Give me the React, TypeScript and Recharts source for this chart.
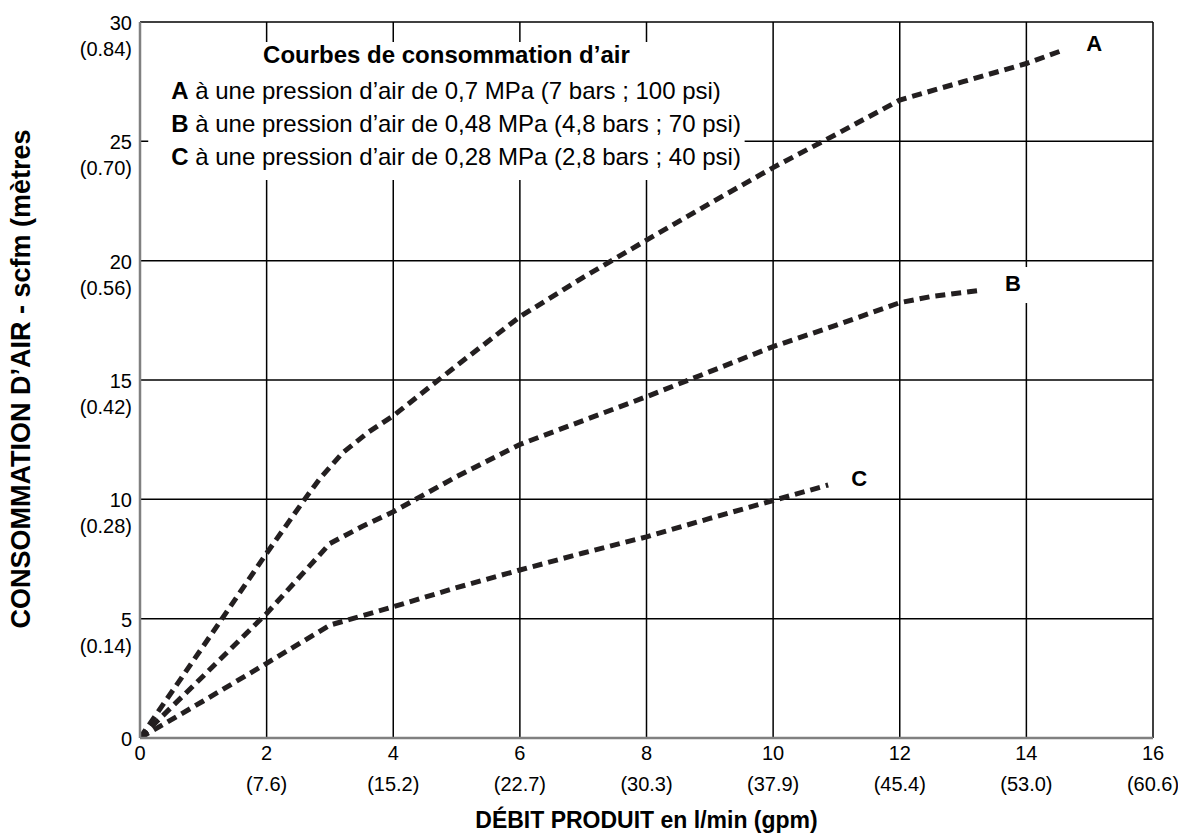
import { LineChart, Line, XAxis, YAxis, CartesianGrid, ReferenceArea, LabelList } from 'recharts';

// débit produit (gpm) / consommation d'air (scfm)
const flowA = [0, 1, 2, 2.6, 2.85, 3.2, 3.6, 4, 5, 6, 7, 8, 9, 10, 11, 12, 13, 14, 14.58];
const airA = [0, 3.85, 7.74, 10, 10.9, 11.95, 12.8, 13.5, 15.6, 17.65, 19.3, 20.86, 22.4, 23.9, 25.3, 26.73, 27.5, 28.26, 28.82];

const flowB = [0, 1, 2, 3, 3.5, 4, 5, 6, 7, 8, 9, 10, 11, 12, 12.5, 13.3];
const airB = [0, 2.6, 5.22, 8.15, 8.85, 9.48, 10.95, 12.3, 13.3, 14.3, 15.35, 16.4, 17.3, 18.24, 18.5, 18.77];

const flowC = [0, 1, 2, 3, 3.3, 4, 5, 6, 7, 8, 9, 10, 10.87];
const airC = [0, 1.55, 3.13, 4.73, 4.96, 5.5, 6.3, 7.04, 7.75, 8.43, 9.2, 9.95, 10.6];

const xTicks = [0, 2, 4, 6, 8, 10, 12, 14, 16];
const xTicksLpm = ['', '(7.6)', '(15.2)', '(22.7)', '(30.3)', '(37.9)', '(45.4)', '(53.0)', '(60.6)'];
const yTicks = [0, 5, 10, 15, 20, 25, 30];
const yTicksM3 = ['', '(0.14)', '(0.28)', '(0.42)', '(0.56)', '(0.70)', '(0.84)'];

const legendTitle = 'Courbes de consommation d’air';
const legendKeys = ['A', 'B', 'C'];
const legendTexts = [
    ' à une pression d’air de 0,7 MPa (7 bars ; 100 psi)',
    ' à une pression d’air de 0,48 MPa (4,8 bars ; 70 psi)',
    ' à une pression d’air de 0,28 MPa (2,8 bars ; 40 psi)',
];

const xTitle = 'DÉBIT PRODUIT en l/min (gpm)';
const yTitle = 'CONSOMMATION D’AIR - scfm (mètres';

const toPoints = (xs: number[], ys: number[]) => xs.map((x, i) => ({ x, y: ys[i] }));
const seriesA = toPoints(flowA, airA);
const seriesB = toPoints(flowB, airB);
const seriesC = toPoints(flowC, airC);

const INK = '#231f20';
const SANS = "'Liberation Sans', Arial, sans-serif";

const YTick = (props: any) => {
    const { x, y, payload } = props;
    const i = yTicks.indexOf(payload.value);
    return (
        <g fontFamily={SANS} fontSize={20} fill="#000">
            <text x={x} y={y + 1} textAnchor="end" dominantBaseline="central">{payload.value}</text>
            {yTicksM3[i] && (
                <text x={x} y={y + 27} textAnchor="end" dominantBaseline="central">{yTicksM3[i]}</text>
            )}
        </g>
    );
};

const XTick = (props: any) => {
    const { x, y, payload } = props;
    const i = xTicks.indexOf(payload.value);
    return (
        <g fontFamily={SANS} fontSize={20} fill="#000">
            <text x={x} y={y + 15} textAnchor="middle" dominantBaseline="central">{payload.value}</text>
            {xTicksLpm[i] && (
                <text x={x} y={y + 46} textAnchor="middle" dominantBaseline="central">{xTicksLpm[i]}</text>
            )}
        </g>
    );
};

const endLabel = (name: string, last: number) => (props: any) => {
    const { x, y, index } = props;
    if (index !== last) return null;
    const cx = x + 31;
    const cy = y - 7;
    return (
        <g>
            <rect x={cx - 17} y={cy - 16} width={36} height={36} fill="#fff" />
            <text x={cx} y={cy} textAnchor="middle" dominantBaseline="central" fontFamily={SANS} fontWeight="bold" fontSize={22} fill="#000">
                {name}
            </text>
        </g>
    );
};

const LegendBox = (props: any) => {
    const { x, y, width } = props.viewBox;
    return (
        <g fontFamily={SANS} fill="#000">
            <text x={x + width / 2} y={y + 12} textAnchor="middle" dominantBaseline="central" fontSize={24} fontWeight="bold">
                {legendTitle}
            </text>
            {legendKeys.map((k, i) => (
                <text key={k} x={x + 23} y={y + 48 + i * 33} dominantBaseline="central" fontSize={24}>
                    <tspan fontWeight="bold">{k}</tspan>
                    <tspan>{legendTexts[i]}</tspan>
                </text>
            ))}
        </g>
    );
};

const XTitle = (props: any) => {
    const { x, width } = props.viewBox;
    return (
        <text x={x + width / 2} y={820} textAnchor="middle" dominantBaseline="central" fontFamily={SANS} fontWeight="bold" fontSize={23} fill="#000">
            {xTitle}
        </text>
    );
};

const YTitle = () => {
    const cx = 21;
    const cy = 379;
    return (
        <text x={cx} y={cy} transform={`rotate(-90 ${cx} ${cy})`} textAnchor="middle" dominantBaseline="central" fontFamily={SANS} fontWeight="bold" fontSize={27} fill="#000">
            {yTitle}
        </text>
    );
};

export default function App() {
    const lineProps = {
        type: 'linear' as const,
        dataKey: 'y',
        stroke: INK,
        strokeWidth: 5,
        strokeDasharray: '10 6',
        dot: false,
        activeDot: false,
        isAnimationActive: false,
    };

    return (
        <div style={{ position: 'absolute', left: 0, top: 0, width: 1178, height: 837, background: '#fff' }}>
            <LineChart width={1178} height={837} margin={{ top: 22, right: 25, bottom: 0, left: 0 }}>
                <CartesianGrid stroke="#000" strokeWidth={1.5} />
                <XAxis
                    type="number"
                    dataKey="x"
                    domain={[0, 16]}
                    ticks={xTicks}
                    height={99}
                    tickLine={false}
                    tickSize={0}
                    tickMargin={0}
                    axisLine={{ stroke: '#808080', strokeWidth: 2.5 }}
                    tick={<XTick />}
                    label={<XTitle />}
                    allowDataOverflow
                />
                <YAxis
                    type="number"
                    domain={[0, 30]}
                    ticks={yTicks}
                    width={140}
                    tickSize={6}
                    tickMargin={2}
                    tickLine={false}
                    axisLine={{ stroke: '#808080', strokeWidth: 2.5 }}
                    tick={<YTick />}
                    label={<YTitle />}
                    allowDataOverflow
                />
                <ReferenceArea x1={0.13} x2={9.55} y1={23.38} y2={29.16} fill="#fff" fillOpacity={1} stroke="none" label={<LegendBox />} />
                <Line {...lineProps} data={seriesA} name="A">
                    <LabelList dataKey="y" content={endLabel('A', seriesA.length - 1)} />
                </Line>
                <Line {...lineProps} data={seriesB} name="B">
                    <LabelList dataKey="y" content={endLabel('B', seriesB.length - 1)} />
                </Line>
                <Line {...lineProps} data={seriesC} name="C">
                    <LabelList dataKey="y" content={endLabel('C', seriesC.length - 1)} />
                </Line>
            </LineChart>
        </div>
    );
}
